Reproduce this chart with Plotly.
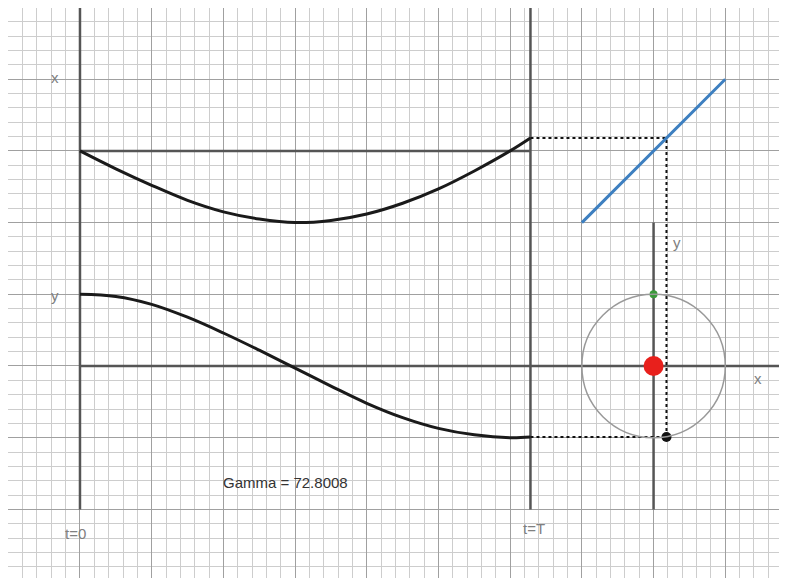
import plotly.graph_objects as go

# time axis runs 0..T, T = 2*pi
T = 6.283

# x(t) curve (upper panel, baseline at 3)
t_vals = [0, 0.5, 1, 1.5, 2, 2.5, 3, 3.5, 4, 4.5, 5, 5.5, 6, 6.283]
x_vals = [3.0, 2.75, 2.52, 2.31, 2.15, 2.05, 2.0, 2.03, 2.12, 2.27, 2.47, 2.72, 3.0, 3.18]
# y(t) curve (lower panel, baseline at 0)
y_vals = [1.0, 0.97, 0.86, 0.68, 0.46, 0.22, -0.03, -0.28, -0.52, -0.72, -0.87, -0.96, -1.0, -0.99]

# blue mapping line and circle
blue_x = [7, 9]
blue_y = [2, 4]
circle_cx, circle_cy, circle_r = 8, 0, 1
point_x = 8.18  # where x(T) hits the blue line, moved onto the circle
point_y = y_vals[-1]

gamma_text = "Gamma = 72.8008"

fig = go.Figure()

axis_col = "#555555"

# axes of the time plot
fig.add_trace(go.Scatter(x=[0, 0], y=[-2, 5.1], mode="lines",
                         line=dict(color=axis_col, width=2.5)))
fig.add_trace(go.Scatter(x=[T, T], y=[-2, 5.1], mode="lines",
                         line=dict(color=axis_col, width=2.5)))
fig.add_trace(go.Scatter(x=[0, 10], y=[0, 0], mode="lines",
                         line=dict(color=axis_col, width=2.5)))
fig.add_trace(go.Scatter(x=[0, T], y=[3, 3], mode="lines",
                         line=dict(color=axis_col, width=2.5)))
# circle's vertical axis
fig.add_trace(go.Scatter(x=[circle_cx, circle_cx], y=[-2, 2], mode="lines",
                         line=dict(color=axis_col, width=2.5)))

# circle
fig.add_shape(type="circle", xref="x", yref="y",
              x0=circle_cx - circle_r, x1=circle_cx + circle_r,
              y0=circle_cy - circle_r, y1=circle_cy + circle_r,
              line=dict(color="#999999", width=1.5))

# dotted guides
fig.add_trace(go.Scatter(x=[T, point_x, point_x], y=[x_vals[-1], x_vals[-1], point_y],
                         mode="lines", line=dict(color="#111111", width=2, dash="dot")))
fig.add_trace(go.Scatter(x=[T, point_x], y=[point_y, point_y],
                         mode="lines", line=dict(color="#111111", width=2, dash="dot")))

# curves
fig.add_trace(go.Scatter(x=t_vals, y=x_vals, mode="lines", line_shape="spline",
                         line=dict(color="#1a1a1a", width=3)))
fig.add_trace(go.Scatter(x=t_vals, y=y_vals, mode="lines", line_shape="spline",
                         line=dict(color="#1a1a1a", width=3)))

# blue line
fig.add_trace(go.Scatter(x=blue_x, y=blue_y, mode="lines",
                         line=dict(color="#3d7fc0", width=3)))

# points
fig.add_trace(go.Scatter(x=[circle_cx], y=[circle_cy + circle_r], mode="markers",
                         marker=dict(color="#3a9a3a", size=8)))
fig.add_trace(go.Scatter(x=[circle_cx], y=[circle_cy], mode="markers",
                         marker=dict(color="#e8201c", size=20)))
fig.add_trace(go.Scatter(x=[point_x], y=[point_y], mode="markers",
                         marker=dict(color="#111111", size=10)))

labels = [
    (-0.35, 4.02, "x"),
    (-0.35, 0.99, "y"),
    (-0.06, -2.33, "t=0"),
    (6.33, -2.27, "t=T"),
    (8.33, 1.72, "y"),
    (9.46, -0.17, "x"),
]
for lx, ly, txt in labels:
    fig.add_annotation(x=lx, y=ly, text=txt, showarrow=False,
                       font=dict(family="Arial", size=15, color="#808080"))
fig.add_annotation(x=2.86, y=-1.62, text=gamma_text, showarrow=False,
                   font=dict(family="Arial", size=15, color="#333333"))

grid = dict(showticklabels=False, zeroline=False, showline=False, ticks="",
            tick0=0, dtick=1, showgrid=True, gridcolor="#a0a0a0", gridwidth=1,
            minor=dict(tick0=0, dtick=0.2, showgrid=True, gridcolor="#cdcdcd", gridwidth=1))

# the page body adds an 8px offset, so the figure is sized to the remaining window
fig.update_layout(
    width=779, height=570,
    margin=dict(l=0, r=0, t=0, b=0),
    paper_bgcolor="white", plot_bgcolor="white",
    showlegend=False,
    xaxis=dict(range=[-1.004, 9.861], **grid),
    yaxis=dict(range=[-2.957, 4.993], **grid),
)

fig.write_html("out.html")
